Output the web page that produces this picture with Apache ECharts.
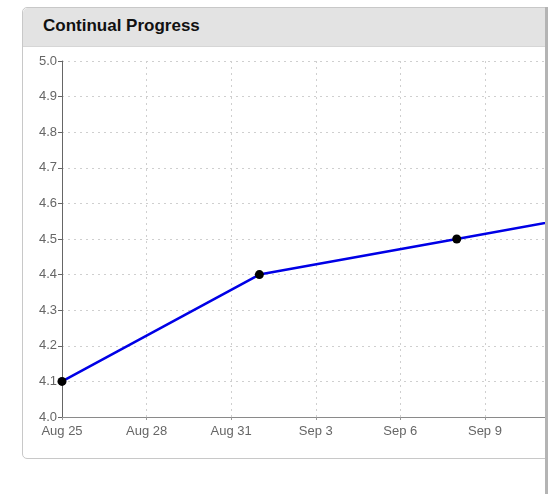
<!DOCTYPE html>
<html>
<head>
<meta charset="utf-8">
<script src="https://cdn.jsdelivr.net/npm/echarts@6/dist/echarts.min.js"></script>
<style>
  body { margin: 0; background: #fff; width: 548px; height: 494px; overflow: hidden; position: relative; font-family: Arial, "Liberation Sans", sans-serif; }
  .panel { position: absolute; left: 22px; top: 7px; width: 540px; height: 450px; border: 1px solid #c8c8c8; border-radius: 5px; background: #fff; }
  .panel_head { height: 38px; background: #e3e3e3; border-bottom: 1px solid #d6d6d6; border-radius: 5px 0 0 0; }
  .panel_head span { position: absolute; left: 20px; top: 8px; font-size: 17px; font-weight: bold; color: #111; }
  .edge { position: absolute; left: 545px; top: 7px; width: 3px; height: 487px; background: #b4b4b4; }
  #chart { position: absolute; left: 0; top: 0; width: 545px; height: 494px; }
</style>
</head>
<body>
<div class="panel"><div class="panel_head"><span>Continual Progress</span></div></div>
<div id="chart"></div>
<div class="edge"></div>
<script>
// progress readings (last one lies past the visible right edge)
const dates = ['2014-08-25', '2014-09-01', '2014-09-08', '2014-09-15'];
const scores = [4.1, 4.4, 4.5, 4.6];
const startDate = '2014-08-25';
const monthNames = ['Jan', 'Feb', 'Mar', 'Apr', 'May', 'Jun', 'Jul', 'Aug', 'Sep', 'Oct', 'Nov', 'Dec'];

const DAY = 86400000;
const t0 = Date.parse(startDate + 'T00:00:00Z');
const dayOffset = d => (Date.parse(d + 'T00:00:00Z') - t0) / DAY;
const dayLabel = v => {
  const d = new Date(t0 + Math.round(v) * DAY);
  return monthNames[d.getUTCMonth()] + ' ' + d.getUTCDate();
};

const points = dates.map((d, i) => [dayOffset(d), scores[i]]);

const myChart = echarts.init(document.getElementById('chart'), null, { width: 545, height: 494 });
const option = {
  animation: false,
  grid: { left: 62, top: 61, right: 0, bottom: 77 },
  xAxis: {
    type: 'value',
    min: 0,
    max: 17.13,
    interval: 3,
    axisLine: { show: true, lineStyle: { color: '#8a8a8a', width: 1 } },
    axisTick: { show: true, length: 3, lineStyle: { color: '#999' } },
    axisLabel: {
      color: '#666', fontSize: 13, margin: 8,
      fontFamily: 'Arial, "Liberation Sans", sans-serif',
      showMaxLabel: false,
      formatter: dayLabel
    },
    splitLine: { show: true, lineStyle: { color: '#cfcfcf', type: [2, 4], width: 1 } }
  },
  yAxis: {
    type: 'value',
    min: 4,
    max: 5,
    interval: 0.1,
    axisLine: { show: true, lineStyle: { color: '#666', width: 1 } },
    axisTick: { show: true, length: 4, lineStyle: { color: '#666' } },
    axisLabel: {
      color: '#666', fontSize: 13, margin: 5,
      fontFamily: 'Arial, "Liberation Sans", sans-serif',
      formatter: v => v.toFixed(1)
    },
    splitLine: { show: true, lineStyle: { color: '#cfcfcf', type: [2, 4], width: 1 } }
  },
  series: [{
    type: 'line',
    data: points,
    clip: true,
    symbol: 'circle',
    symbolSize: 9,
    itemStyle: { color: '#000' },
    lineStyle: { color: '#0000e6', width: 2.5 },
    z: 5
  }]
};
option && myChart.setOption(option);
</script>
</body>
</html>
